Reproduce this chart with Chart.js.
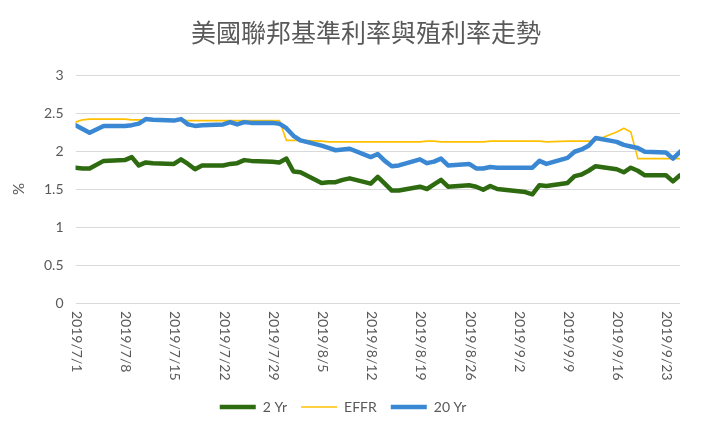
<!DOCTYPE html>
<html>
<head>
<meta charset="utf-8">
<title>美國聯邦基準利率與殖利率走勢</title>
<script src="https://cdn.jsdelivr.net/npm/chart.js@4/dist/chart.umd.min.js"></script>
<style>
  html, body { margin: 0; padding: 0; background: #fff; }
  #wrap { width: 720px; height: 430px; }
</style>
</head>
<body>
<div id="wrap"><canvas id="chart"></canvas></div>
<script>
// trading days (7/4 and 9/2 are holidays)
const dates = [
  "2019/7/1","2019/7/2","2019/7/3","2019/7/5","2019/7/8","2019/7/9","2019/7/10","2019/7/11","2019/7/12",
  "2019/7/15","2019/7/16","2019/7/17","2019/7/18","2019/7/19","2019/7/22","2019/7/23","2019/7/24","2019/7/25",
  "2019/7/26","2019/7/29","2019/7/30","2019/7/31",
  "2019/8/1","2019/8/2","2019/8/5","2019/8/6","2019/8/7","2019/8/8","2019/8/9","2019/8/12","2019/8/13",
  "2019/8/14","2019/8/15","2019/8/16","2019/8/19","2019/8/20","2019/8/21","2019/8/22","2019/8/23","2019/8/26",
  "2019/8/27","2019/8/28","2019/8/29","2019/8/30",
  "2019/9/3","2019/9/4","2019/9/5","2019/9/6","2019/9/9","2019/9/10","2019/9/11","2019/9/12","2019/9/13",
  "2019/9/16","2019/9/17","2019/9/18","2019/9/19","2019/9/20","2019/9/23","2019/9/24","2019/9/25"
];

const yr2 = [
  1.78, 1.77, 1.77, 1.87, 1.88, 1.92, 1.81, 1.85, 1.84, 1.83, 1.89, 1.83, 1.76, 1.81, 1.81, 1.83, 1.84, 1.88, 1.87, 1.86, 1.85, 1.90,
  1.73, 1.72, 1.58, 1.59, 1.59, 1.62, 1.64, 1.57, 1.66, 1.57, 1.48, 1.48, 1.53, 1.50, 1.56, 1.62, 1.53, 1.55, 1.53, 1.49, 1.54, 1.50,
  1.46, 1.43, 1.55, 1.54, 1.58, 1.67, 1.69, 1.74, 1.80, 1.76, 1.72, 1.78, 1.74, 1.68, 1.68, 1.60, 1.68
];

const effr = [
  2.38, 2.41, 2.42, 2.42, 2.42, 2.41, 2.41, 2.41, 2.41, 2.41, 2.41, 2.40, 2.40, 2.40, 2.40, 2.40, 2.40, 2.40, 2.40, 2.40, 2.40, 2.14,
  2.14, 2.14, 2.13, 2.12, 2.12, 2.12, 2.12, 2.12, 2.12, 2.12, 2.12, 2.12, 2.12, 2.13, 2.13, 2.12, 2.12, 2.12, 2.12, 2.12, 2.13, 2.13,
  2.13, 2.13, 2.13, 2.12, 2.13, 2.13, 2.13, 2.13, 2.14, 2.25, 2.30, 2.25, 1.90, 1.90, 1.90, 1.90, 1.90
];

const yr20 = [
  2.34, 2.29, 2.24, 2.33, 2.33, 2.34, 2.36, 2.42, 2.41, 2.40, 2.42, 2.35, 2.33, 2.34, 2.35, 2.38, 2.35, 2.38, 2.37, 2.37, 2.36, 2.30,
  2.20, 2.14, 2.07, 2.04, 2.01, 2.02, 2.03, 1.92, 1.96, 1.87, 1.80, 1.81, 1.89, 1.84, 1.86, 1.90, 1.81, 1.83, 1.77, 1.77, 1.79, 1.78,
  1.78, 1.78, 1.87, 1.83, 1.91, 1.99, 2.02, 2.07, 2.17, 2.12, 2.08, 2.06, 2.04, 1.99, 1.98, 1.90, 1.99
];

const tickLabels = [
  "2019/7/1","2019/7/8","2019/7/15","2019/7/22","2019/7/29","2019/8/5","2019/8/12",
  "2019/8/19","2019/8/26","2019/9/2","2019/9/9","2019/9/16","2019/9/23"
];

const TITLE = "美國聯邦基準利率與殖利率走勢";
const TEXT = "#595959";
const LATIN = "Lato, 'Noto Sans', sans-serif";
const start = new Date(2019, 6, 1);

// days since 2019/7/1
function dayIndex(s) {
  const [y, m, d] = s.split("/").map(Number);
  return Math.round((new Date(y, m - 1, d) - start) / 86400000);
}

function points(values) {
  return dates.map((d, i) => ({ x: dayIndex(d), y: values[i] }));
}

// Excel style date labels (rotated 90deg clockwise) + title
const decorations = {
  id: "decorations",
  afterDraw(chart) {
    const xs = chart.scales.x;
    const ctx = chart.ctx;
    tickLabels.forEach(lbl => {
      const x = xs.getPixelForValue(dayIndex(lbl));
      ctx.save();
      ctx.translate(x + 1, xs.top + 8);
      ctx.rotate(Math.PI / 2);
      ctx.textAlign = "left";
      ctx.textBaseline = "middle";
      ctx.fillStyle = TEXT;
      ctx.font = "14px " + LATIN;
      ctx.fillText(lbl, 0, 0);
      ctx.restore();
    });

    ctx.save();
    ctx.fillStyle = TEXT;
    ctx.font = "25px 'Noto Sans CJK TC', sans-serif";
    ctx.textAlign = "center";
    ctx.textBaseline = "middle";
    ctx.fillText(TITLE, 366, 32);
    ctx.restore();
  }
};

const lineBase = { pointRadius: 0, tension: 0, borderJoinStyle: "round", borderCapStyle: "round", spanGaps: true };

new Chart(document.getElementById("chart"), {
  type: "line",
  data: {
    datasets: [
      { ...lineBase, label: "2 Yr", data: points(yr2), borderColor: "#2E6B10", backgroundColor: "#2E6B10", borderWidth: 4.5, order: 2 },
      { ...lineBase, label: "EFFR", data: points(effr), borderColor: "#FFC000", backgroundColor: "#FFC000", borderWidth: 1.6, order: 1 },
      { ...lineBase, label: "20 Yr", data: points(yr20), borderColor: "#3A88D4", backgroundColor: "#3A88D4", borderWidth: 4.5, order: 0 },
    ]
  },
  options: {
    responsive: true,
    maintainAspectRatio: false,
    animation: false,
    layout: { padding: { left: 6, right: 40, top: 75, bottom: 6 } },
    plugins: {
      title: { display: false },
      legend: {
        position: "bottom",
        labels: {
          usePointStyle: true,
          pointStyle: "line",
          boxWidth: 36,
          pointStyleWidth: 36,
          color: TEXT,
          font: { family: LATIN, size: 14 },
          padding: 14,
          sort: (a, b) => a.datasetIndex - b.datasetIndex
        }
      },
      tooltip: { enabled: false }
    },
    scales: {
      x: {
        type: "linear",
        min: 0,
        max: dayIndex(dates[dates.length - 1]),
        grid: { display: false },
        border: { display: false },
        ticks: { display: false },
        afterFit: s => { s.height = 83; }
      },
      y: {
        min: 0,
        max: 3,
        ticks: { stepSize: 0.5, color: TEXT, font: { family: LATIN, size: 14 }, padding: 12, callback: v => String(v) },
        grid: { color: "#D9D9D9", lineWidth: 1, drawTicks: false },
        border: { display: false },
        title: { display: true, text: "%", color: TEXT, font: { family: LATIN, size: 15 } }
      }
    }
  },
  plugins: [decorations]
});
</script>
</body>
</html>
